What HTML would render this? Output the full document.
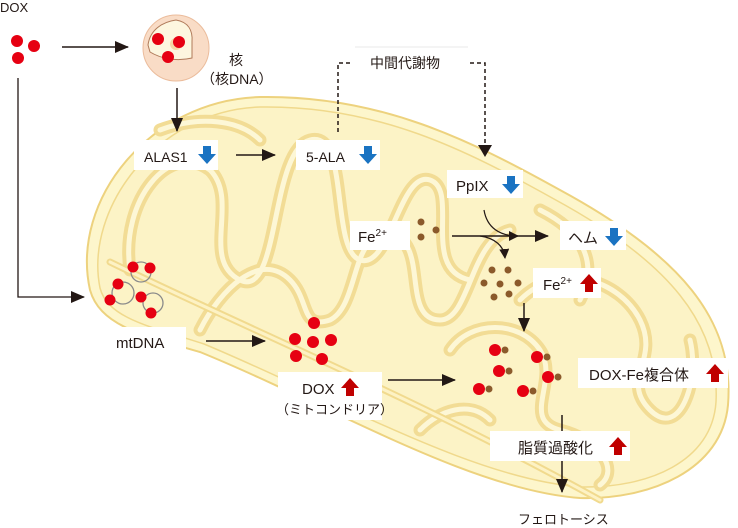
<!DOCTYPE html>
<html><head><meta charset="utf-8"><style>
html,body{margin:0;padding:0;background:#fff;}
svg{display:block;font-family:"Liberation Sans","Noto Sans CJK JP",sans-serif;}
</style></head><body>
<svg width="738" height="528" viewBox="0 0 738 528" xmlns="http://www.w3.org/2000/svg">
<defs>
<marker id="ah" markerWidth="10" markerHeight="10" refX="9" refY="5" orient="auto" markerUnits="userSpaceOnUse"><path d="M0,0 L10,5 L0,10 z" fill="#231815"/></marker>
<marker id="ah2" markerWidth="14" markerHeight="12" refX="13" refY="6" orient="auto" markerUnits="userSpaceOnUse"><path d="M0,0 L14,6 L0,12 z" fill="#231815"/></marker>
<g id="bd"><path d="M-4,-8 h8 v8 h5 l-9,10 l-9,-10 h5z" fill="#1a73c2"/></g>
<g id="ru"><path d="M-4,8 h8 v-8 h5 l-9,-10 l-9,10 h5z" fill="#c00000"/></g>
</defs>
<!-- mitochondrion -->
<path d="M90,290 C70,200 150,100 260,97 C380,95 470,140 560,190 C680,255 735,320 728,405 C722,470 650,500 580,498 C470,490 330,405 200,352 C140,335 100,325 90,290 Z" fill="#fdf6cc" stroke="#edd27e" stroke-width="2"/>
<path d="M100,288 C84,208 158,110 260,107 C378,105 466,150 554,199 C670,262 720,325 716,402 C712,462 648,488 582,487 C474,480 334,398 204,344 C148,326 108,318 100,288 Z" fill="#fcf3c6" stroke="#f0d98c" stroke-width="1.5"/>
<g fill="none" stroke-linecap="round">
<g stroke="#f2dc95" stroke-width="13">
<path d="M130,270 C120,200 170,140 210,170 C240,200 200,260 240,280 C280,300 270,150 310,140 C350,130 330,250 360,260 C390,270 400,170 430,180 C460,190 420,270 470,280"/>
<path d="M200,330 C220,290 260,250 290,280 C310,300 300,330 330,320 C360,305 350,230 390,235 C430,240 400,320 440,320 C470,320 470,240 510,230"/>
<path d="M520,300 C560,260 620,280 640,320 C660,360 620,380 650,410 C680,440 700,380 690,340"/>
<path d="M450,350 C470,320 520,320 540,350 C560,380 520,420 560,430 C600,440 620,470 600,485"/>
<path d="M420,430 C440,410 470,400 490,420"/>
<path d="M540,210 C580,230 600,260 580,300"/>
<path d="M160,130 C200,115 240,120 260,140"/>
</g>
<g stroke="#fdf7d6" stroke-width="5">
<path d="M130,270 C120,200 170,140 210,170 C240,200 200,260 240,280 C280,300 270,150 310,140 C350,130 330,250 360,260 C390,270 400,170 430,180 C460,190 420,270 470,280"/>
<path d="M200,330 C220,290 260,250 290,280 C310,300 300,330 330,320 C360,305 350,230 390,235 C430,240 400,320 440,320 C470,320 470,240 510,230"/>
<path d="M520,300 C560,260 620,280 640,320 C660,360 620,380 650,410 C680,440 700,380 690,340"/>
<path d="M450,350 C470,320 520,320 540,350 C560,380 520,420 560,430 C600,440 620,470 600,485"/>
<path d="M420,430 C440,410 470,400 490,420"/>
<path d="M540,210 C580,230 600,260 580,300"/>
<path d="M160,130 C200,115 240,120 260,140"/>
</g>
<path d="M110,262 C250,330 420,400 600,500" stroke="#f1da8e" stroke-width="7"/>
<path d="M110,262 C250,330 420,400 600,500" stroke="#fdf2c4" stroke-width="3"/>
</g>
<!-- top-left DOX -->
<text x="0" y="12" font-size="13" fill="#231815">DOX</text>
<g fill="#e60012"><circle cx="17" cy="41" r="6"/><circle cx="34" cy="46" r="6"/><circle cx="18" cy="58" r="6"/></g>
<line x1="62" y1="47" x2="128" y2="47" stroke="#231815" stroke-width="1.5" marker-end="url(#ah2)"/>
<!-- nucleus -->
<circle cx="176" cy="48" r="33" fill="#f9dcc6" stroke="#ebbc9c" stroke-width="1"/>
<path d="M148,45 C150,30 162,22 176,20 C188,22 193,30 192,42 L192,58 C175,62 160,58 150,52 Z" fill="#fdf6df" stroke="#b07a5a" stroke-width="1"/>
<circle cx="176" cy="44" r="6" fill="#f6d7a5"/>
<g fill="#e60012"><circle cx="158" cy="39" r="6"/><circle cx="179" cy="42" r="6"/><circle cx="168" cy="57" r="6"/></g>
<text x="229" y="65" font-size="14" fill="#231815">核</text>
<text x="201" y="84" font-size="14" fill="#231815">（核DNA）</text>
<line x1="177" y1="88" x2="177" y2="131" stroke="#231815" stroke-width="1.5" marker-end="url(#ah2)"/>
<!-- ALAS1 -->
<rect x="134" y="140" width="84" height="30" fill="#fff"/>
<text x="144" y="162" font-size="14" fill="#231815">ALAS1</text>
<use href="#bd" x="207" y="154"/>
<line x1="236" y1="155" x2="275" y2="155" stroke="#231815" stroke-width="1.5" marker-end="url(#ah2)"/>
<rect x="296" y="140" width="84" height="30" fill="#fff"/>
<text x="306" y="162" font-size="14" fill="#231815">5-ALA</text>
<use href="#bd" x="368" y="154"/>
<!-- dashed intermediate -->
<line x1="355" y1="47" x2="468" y2="47" stroke="#e8e8e8" stroke-width="1"/>
<path d="M338,132 V63 H352" fill="none" stroke="#231815" stroke-width="1.5" stroke-dasharray="4,3"/>
<path d="M470,63 H485 V147" fill="none" stroke="#231815" stroke-width="1.5" stroke-dasharray="4,3"/>
<path d="M478,145 L492,145 L485,157 z" fill="#231815"/>
<text x="370" y="68" font-size="14" fill="#231815">中間代謝物</text>
<!-- PpIX -->
<rect x="447" y="170" width="76" height="28" fill="#fff"/>
<text x="456" y="191" font-size="15" fill="#231815">PpIX</text>
<use href="#bd" x="511" y="184"/>
<!-- Fe2+ -->
<rect x="350" y="221" width="60" height="29" fill="#fff"/>
<text x="358" y="242" font-size="15" fill="#231815">Fe<tspan font-size="10" dy="-6">2+</tspan></text>
<g fill="#8b5a2b"><circle cx="421" cy="222" r="3.5"/><circle cx="436" cy="230" r="3.5"/><circle cx="421" cy="237" r="3.5"/></g>
<line x1="452" y1="236" x2="548" y2="236" stroke="#231815" stroke-width="1.5" marker-end="url(#ah2)"/>
<path d="M484,210 C487,228 500,236 518,236" fill="none" stroke="#231815" stroke-width="1.2" marker-end="url(#ah)"/>
<path d="M480,236 C495,238 504,246 505,258" fill="none" stroke="#231815" stroke-width="1.2" marker-end="url(#ah)"/>
<rect x="560" y="221" width="66" height="29" fill="#fff"/>
<text x="568" y="243" font-size="15" fill="#231815">ヘム</text>
<use href="#bd" x="614" y="236"/>
<g fill="#8b5a2b"><circle cx="492" cy="270" r="3.5"/><circle cx="508" cy="270" r="3.5"/><circle cx="484" cy="283" r="3.5"/><circle cx="500" cy="284" r="3.5"/><circle cx="518" cy="283" r="3.5"/><circle cx="494" cy="297" r="3.5"/><circle cx="509" cy="294" r="3.5"/></g>
<rect x="533" y="268" width="68" height="30" fill="#fff"/>
<text x="543" y="290" font-size="15" fill="#231815">Fe<tspan font-size="10" dy="-6">2+</tspan></text>
<use href="#ru" x="589" y="284"/>
<line x1="524" y1="303" x2="524" y2="331" stroke="#231815" stroke-width="1.5" marker-end="url(#ah2)"/>
<!-- DOX-Fe pairs -->
<g fill="#8b5a2b"><circle cx="505" cy="350" r="3.5"/><circle cx="547" cy="357" r="3.5"/><circle cx="509" cy="371" r="3.5"/><circle cx="558" cy="377" r="3.5"/><circle cx="489" cy="389" r="3.5"/><circle cx="533" cy="391" r="3.5"/></g>
<g fill="#e60012"><circle cx="495" cy="350" r="6"/><circle cx="537" cy="357" r="6"/><circle cx="499" cy="371" r="6"/><circle cx="548" cy="377" r="6"/><circle cx="479" cy="389" r="6"/><circle cx="523" cy="391" r="6"/></g>
<rect x="578" y="358" width="150" height="30" fill="#fff"/>
<text x="589" y="380" font-size="15" fill="#231815">DOX-Fe複合体</text>
<use href="#ru" x="715" y="374"/>
<line x1="562" y1="415" x2="562" y2="432" stroke="#231815" stroke-width="1.5"/>
<rect x="490" y="431" width="140" height="30" fill="#fff"/>
<text x="518" y="453" font-size="15" fill="#231815">脂質過酸化</text>
<use href="#ru" x="618" y="447"/>
<line x1="562" y1="461" x2="562" y2="492" stroke="#231815" stroke-width="1.5" marker-end="url(#ah2)"/>
<text x="518" y="524" font-size="13" fill="#231815">フェロトーシス</text>
<!-- left path to mtDNA -->
<path d="M18,78 V297 H84" fill="none" stroke="#231815" stroke-width="1.3" marker-end="url(#ah2)"/>
<g fill="none" stroke="#8a8a8a" stroke-width="1.3"><circle cx="141" cy="272" r="10"/><circle cx="123" cy="293" r="11"/><circle cx="153" cy="303" r="10"/></g>
<g fill="#e60012"><circle cx="133" cy="267" r="5.5"/><circle cx="150" cy="268" r="5.5"/><circle cx="118" cy="284" r="5.5"/><circle cx="110" cy="300" r="5.5"/><circle cx="141" cy="297" r="5.5"/><circle cx="151" cy="313" r="5.5"/></g>
<rect x="60" y="327" width="126" height="27" fill="#fff"/>
<text x="116" y="348" font-size="15" fill="#231815">mtDNA</text>
<line x1="206" y1="341" x2="265" y2="341" stroke="#231815" stroke-width="1.5" marker-end="url(#ah2)"/>
<g fill="#e60012"><circle cx="314" cy="323" r="6"/><circle cx="295" cy="339" r="6"/><circle cx="313" cy="342" r="6"/><circle cx="331" cy="340" r="6"/><circle cx="296" cy="356" r="6"/><circle cx="322" cy="359" r="6"/></g>
<rect x="278" y="372" width="104" height="48" fill="#fff"/>
<text x="302" y="394" font-size="15" fill="#231815">DOX</text>
<use href="#ru" x="350" y="388"/>
<text x="276" y="414" font-size="13" fill="#231815">（ミトコンドリア）</text>
<line x1="388" y1="380" x2="455" y2="380" stroke="#231815" stroke-width="1.5" marker-end="url(#ah2)"/>
</svg>
</body></html>
